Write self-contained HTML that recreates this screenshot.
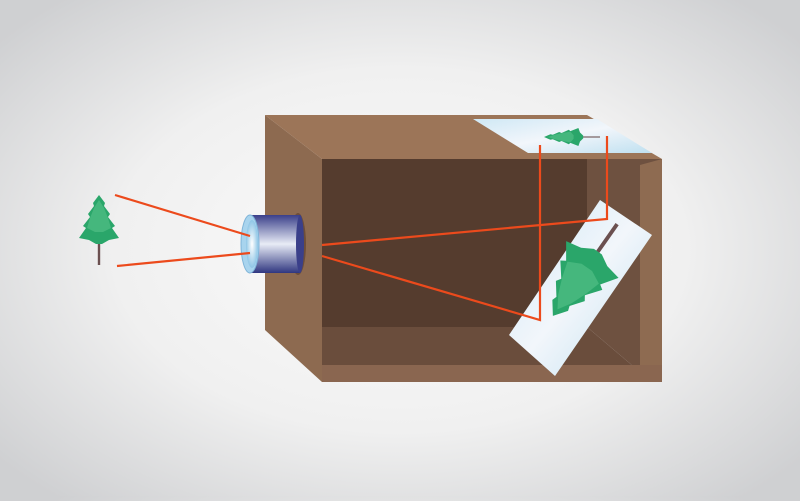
<!DOCTYPE html>
<html><head><style>
html,body{margin:0;padding:0;}
body{width:800px;height:496px;overflow:hidden;background:radial-gradient(ellipse 520px 330px at 400px 250px,#fbfbfb 0%,#f0f0f0 55%,#cfd0d2 100%);}
</style></head><body>
<svg width="800" height="496" viewBox="0 0 800 496" xmlns="http://www.w3.org/2000/svg">
<defs>
<linearGradient id="cyl" x1="0" y1="0" x2="0" y2="1">
<stop offset="0" stop-color="#3a3f8a"/><stop offset="0.5" stop-color="#e8ecf6"/><stop offset="1" stop-color="#2f3680"/>
</linearGradient>
<radialGradient id="lens" cx="0.5" cy="0.5" r="0.5">
<stop offset="0" stop-color="#ffffff"/><stop offset="1" stop-color="#8fc6e6"/>
</radialGradient>
<linearGradient id="glass" x1="0" y1="0" x2="1" y2="1">
<stop offset="0" stop-color="#cfe8f5"/><stop offset="0.5" stop-color="#f2f6fb"/><stop offset="1" stop-color="#bfe0f0"/>
</linearGradient>
<g id="tree">
<rect x="-1.2" y="-20" width="2.4" height="55" fill="#6b5050"/>
<path d="M0,-35 L6,-27 L5,-24 L11,-16 L9,-13 L16,-4 L13,-2 L20,8 L10,10 L3,14 L-3,14 L-10,10 L-20,8 L-13,-2 L-16,-4 L-9,-13 L-11,-16 L-5,-24 L-6,-27Z" fill="#2aa66a"/>
<path d="M0,-30 L5,-22 L9,-12 L12,-2 L4,2 L-4,2 L-12,-2 L-9,-12 L-5,-22Z" fill="#4cbc82" opacity="0.8"/>
</g>
</defs>
<polygon points="265,115 322,159 322,382 265,330" fill="#8d6a50"/>
<polygon points="265,115 587,115 662,159 322,159" fill="#9c7558"/>
<rect x="322" y="159" width="265" height="168" fill="#553c2e"/>
<polygon points="587,159 662,159 640,372 587,327" fill="#6e5140"/>
<polygon points="640,165 662,159 662,382 640,372" fill="#8e6b51"/>
<polygon points="322,327 587,327 640,372 640,382 322,382" fill="#6a4d3c"/>
<rect x="322" y="365" width="340" height="17" fill="#8a6650"/>
<ellipse cx="298" cy="244" rx="8" ry="31" fill="#6e4e3a"/>
<rect x="250" y="215" width="50" height="58" fill="url(#cyl)"/>
<ellipse cx="300" cy="244" rx="4" ry="29" fill="#3a3f8a"/>
<ellipse cx="250" cy="244" rx="9" ry="29" fill="#a8d4ee" stroke="#7fb4d8"/>
<ellipse cx="252" cy="244" rx="6" ry="24" fill="url(#lens)"/>
<polygon points="473,119 597,119 652,153 528,153" fill="url(#glass)"/>
<g transform="translate(572,137) rotate(-90) scale(0.45,0.8)"><use href="#tree"/></g>
<polygon points="600,200 652,235 555,376 509,335" fill="url(#glass)"/>
<g transform="translate(585,270) rotate(-145) scale(1.6)"><use href="#tree"/></g>
<g transform="translate(99,230)"><use href="#tree"/></g>
<g stroke="#ec4a1c" stroke-width="2.2" fill="none">
<line x1="115" y1="195" x2="250" y2="236"/>
<line x1="117" y1="266" x2="250" y2="253"/>
<polyline points="322,245 607,219 607,136"/>
<polyline points="322,256 540,320 540,145"/>
</g>
</svg>
</body></html>
